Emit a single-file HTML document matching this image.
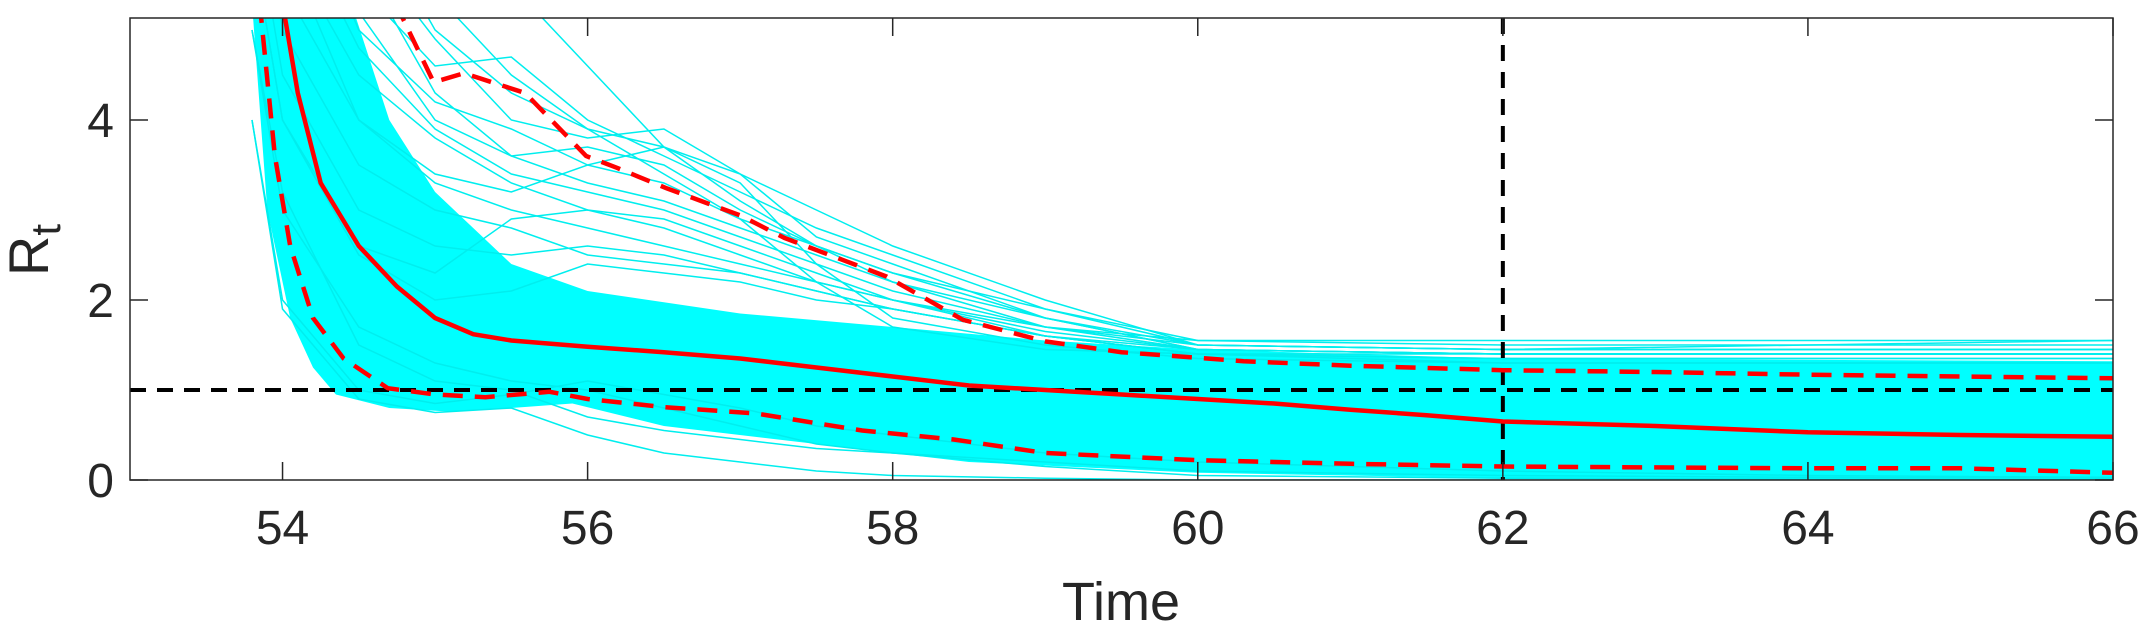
<!DOCTYPE html>
<html><head><meta charset="utf-8"><style>
html,body{margin:0;padding:0;background:#fff;}
svg{display:block;font-family:"Liberation Sans",Arial,sans-serif;}
</style></head><body>
<svg id="chart" width="2155" height="630" viewBox="0 0 2155 630" xmlns="http://www.w3.org/2000/svg">
<defs><clipPath id="plotclip"><rect x="130" y="18" width="1983" height="462"/></clipPath></defs>
<rect x="0" y="0" width="2155" height="630" fill="#fff"/>
<g id="plot" clip-path="url(#plotclip)"></g>
<g id="axes"></g>
</svg>
<script>
const T = [53.8,54,54.5,55,55.5,56,56.5,57,57.5,58,59,60,62,64,66];
const samples = [
 [9,7,5.5,4.6,4.7,4.0,3.6,3.2,2.8,2.5,1.9,1.5,1.45,1.5,1.55],
 [9,8,6,4.9,4.0,3.8,3.9,3.4,3.0,2.6,2.0,1.5,1.45,1.45,1.45],
 [8,6,4.5,3.8,3.3,3.0,2.9,2.6,2.3,2.0,1.6,1.4,1.35,1.35,1.35],
 [9,7,5,4.2,3.9,3.5,3.7,3.4,2.7,2.4,1.8,1.45,1.4,1.4,1.4],
 [7,5,3.5,3.0,2.8,2.5,2.4,2.3,2.1,1.9,1.6,1.4,1.3,1.3,1.3],
 [6,4,2.5,2.0,2.1,2.4,2.3,2.2,2.0,1.9,1.6,1.45,1.4,1.4,1.4],
 [9,9,9,7,5.5,4.6,3.7,3.1,2.6,2.2,1.7,1.5,1.45,1.45,1.45],
 [9,8,6.5,5.0,4.3,3.9,3.7,3.3,2.4,1.8,1.5,1.35,1.3,1.3,1.3],
 [5,3,1.7,1.3,1.1,1.0,0.8,0.6,0.4,0.3,0.15,0.05,0.02,0.01,0.0],
 [4,2,1.0,0.85,0.95,1.1,0.95,0.8,0.6,0.5,0.3,0.2,0.1,0.05,0.03],
 [4,1.9,0.9,0.75,0.8,0.5,0.3,0.2,0.1,0.05,0.02,0,0,0,0],
 [6,4,2.6,2.3,2.9,3.0,2.8,2.5,2.2,2.0,1.7,1.55,1.55,1.55,1.55],
 [8,6,4,3.4,3.2,3.5,3.3,2.9,2.6,2.3,1.9,1.55,1.5,1.5,1.5],
 [9,9,7,5.4,4.5,3.9,3.4,2.9,2.2,1.7,1.45,1.4,1.4,1.4,1.4],
 [9,8,5.8,4.3,3.6,3.3,3.1,2.8,2.5,2.2,1.8,1.5,1.45,1.45,1.45],
 [8,6.5,4.8,3.9,3.4,3.2,3.0,2.7,2.4,2.1,1.7,1.45,1.4,1.4,1.4],
 [7,5.5,4.0,3.3,3.0,2.8,2.6,2.4,2.2,2.0,1.65,1.45,1.4,1.4,1.4],
 [9,7.5,5.2,4.0,3.6,3.7,3.5,3.0,2.6,2.3,1.8,1.45,1.4,1.4,1.4],
 [6.5,4.5,3.0,2.6,2.5,2.6,2.5,2.3,2.1,1.9,1.6,1.4,1.35,1.35,1.35],
 [5,3.2,1.5,1.1,1.0,0.7,0.55,0.45,0.35,0.3,0.2,0.1,0.05,0.03,0.02]
];
const bandUpT = [53.85,54.45,54.7,55,55.5,56,57,58,59,60,62,66];
const bandUpV = [5.3,5.3,4.0,3.2,2.4,2.1,1.85,1.7,1.55,1.45,1.35,1.32];
const bandLoT = [53.8,53.9,54.05,54.2,54.35,54.7,55.1,55.5,55.9,56.5,57.5,58.5,60,62,66];
const bandLoV = [5.3,3.0,1.8,1.25,0.95,0.8,0.76,0.8,0.85,0.6,0.4,0.2,0.08,0.02,0.0];
const medT = [54.0,54.1,54.25,54.5,54.75,55,55.25,55.5,56,56.5,57,57.5,58,58.5,59,59.5,60,60.5,61,61.5,62,63,64,65,66];
const medV = [5.3,4.3,3.3,2.6,2.15,1.8,1.62,1.55,1.48,1.42,1.35,1.25,1.15,1.05,1.0,0.95,0.9,0.85,0.78,0.72,0.65,0.6,0.53,0.5,0.48];
const upT = [54.74,54.99,55.19,55.59,55.99,56.19,56.52,57.0,57.29,57.96,58.46,59.0,59.5,60.3,61,62,63,64,65,66];
const upV = [5.3,4.42,4.52,4.3,3.6,3.47,3.24,2.94,2.69,2.26,1.78,1.54,1.42,1.32,1.27,1.22,1.2,1.17,1.15,1.13];
const loT = [53.85,53.95,54.05,54.2,54.4,54.69,55.0,55.33,55.75,56.0,56.5,57.1,57.8,58.4,59,60,61,62,63,64,65,66];
const loV = [5.3,3.6,2.6,1.8,1.35,1.02,0.95,0.92,0.98,0.9,0.81,0.74,0.55,0.45,0.3,0.22,0.18,0.15,0.14,0.13,0.13,0.08];
const xTicks = [54,56,58,60,62,64,66];
const yTicks = [0,2,4];
const refY = 1, refX = 62;

const X0=130,X1=2113,Y0=480,Y1=18,xmin=53,xmax=66,ymin=0,ymax=5.133;
function xs(t){return X0+(t-xmin)/(xmax-xmin)*(X1-X0);}
function ys(v){return Y0-(v-ymin)/(ymax-ymin)*(Y0-Y1);}
const NS="http://www.w3.org/2000/svg";
const plot=document.getElementById('plot'), axes=document.getElementById('axes');
function mk(tag,attrs,parent){const e=document.createElementNS(NS,tag);for(const k in attrs)e.setAttribute(k,attrs[k]);parent.appendChild(e);return e;}
function pts(ts,vs){return ts.map((t,i)=>xs(t).toFixed(1)+','+ys(vs[i]).toFixed(1)).join(' ');}

let band=mk('polygon',{points:pts(bandUpT,bandUpV)+' '+pts(bandLoT.slice().reverse(),bandLoV.slice().reverse()),fill:'#00ffff'},plot);


samples.forEach((s,i)=>{
 let p=mk('polyline',{points:pts(T,s),fill:'none',stroke:'#00eeee','stroke-width':1.5},plot);
 
 
});
let hl=mk('line',{x1:X0,x2:X1,y1:ys(refY),y2:ys(refY),stroke:'#000','stroke-width':4,'stroke-dasharray':'16 11'},plot);


let vl=mk('line',{x1:xs(refX),x2:xs(refX),y1:Y1,y2:Y0,stroke:'#000','stroke-width':4,'stroke-dasharray':'16 11'},plot);


let lo=mk('polyline',{points:pts(loT,loV),fill:'none',stroke:'#ff0000','stroke-width':4.5,'stroke-dasharray':'20 12'},plot);


let up=mk('polyline',{points:pts(upT,upV),fill:'none',stroke:'#ff0000','stroke-width':4.5,'stroke-dasharray':'20 12'},plot);


let md=mk('polyline',{points:pts(medT,medV),fill:'none',stroke:'#ff0000','stroke-width':4.5},plot);



let box=mk('rect',{x:X0,y:Y1,width:X1-X0,height:Y0-Y1,fill:'none',stroke:'#262626','stroke-width':1.5},axes);


xTicks.forEach(t=>{
 const x=xs(t);
 mk('line',{x1:x,x2:x,y1:Y0,y2:Y0-18,stroke:'#262626','stroke-width':1.5},axes);
 mk('line',{x1:x,x2:x,y1:Y1,y2:Y1+18,stroke:'#262626','stroke-width':1.5},axes);
 let tx=mk('text',{x:x,y:544,'font-size':48,fill:'#262626','text-anchor':'middle'},axes);
 tx.textContent=t;
 
 
});
yTicks.forEach(v=>{
 const y=ys(v);
 mk('line',{x1:X0,x2:X0+18,y1:y,y2:y,stroke:'#262626','stroke-width':1.5},axes);
 mk('line',{x1:X1,x2:X1-18,y1:y,y2:y,stroke:'#262626','stroke-width':1.5},axes);
 let tx=mk('text',{x:114,y:y+17,'font-size':48,fill:'#262626','text-anchor':'end'},axes);
 tx.textContent=v;
 
 
});
let xl=mk('text',{x:1121,y:620,'font-size':54,fill:'#262626','text-anchor':'middle'},axes);
xl.textContent='Time';


let yl=mk('text',{x:0,y:0,'font-size':56,fill:'#262626','text-anchor':'middle',transform:'translate(48,250) rotate(-90)'},axes);


let r=mk('tspan',{},yl);r.textContent='R';
let sub=mk('tspan',{dy:12,'font-size':42},yl);sub.textContent='t';
</script>
</body></html>
